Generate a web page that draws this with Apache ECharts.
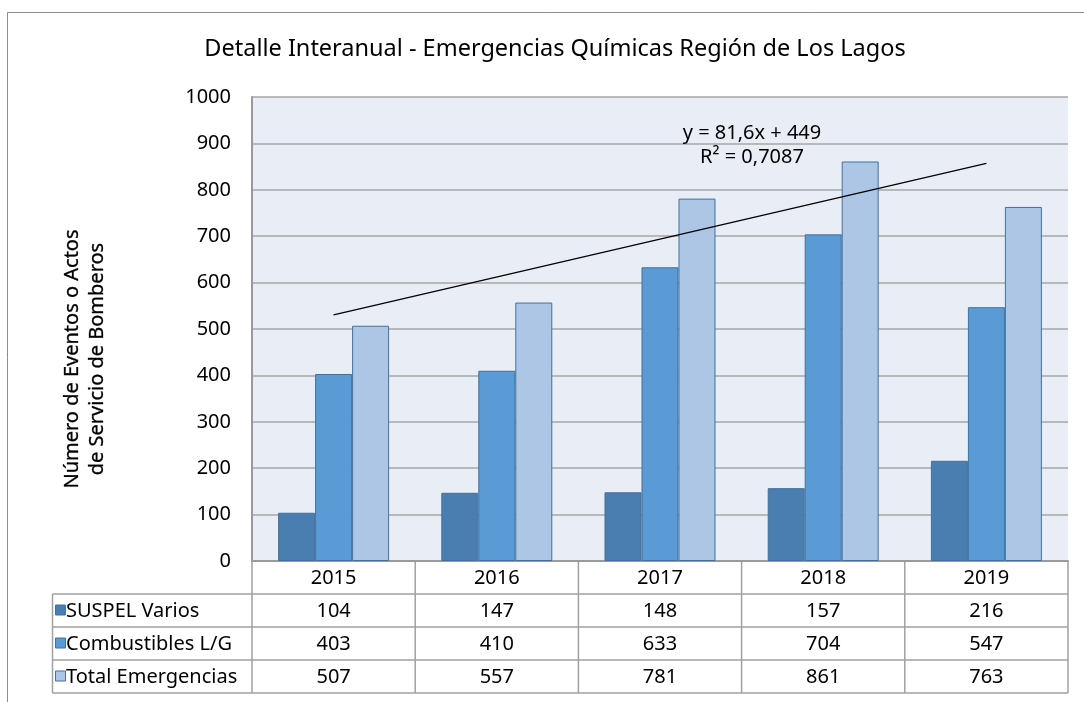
<!DOCTYPE html>
<html><head><meta charset="utf-8">
<script src="https://cdn.jsdelivr.net/npm/echarts@6/dist/echarts.min.js"></script>
<style>html,body{margin:0;padding:0;background:#fff}#c{width:1084px;height:702px}</style>
</head><body><div id="c"></div>
<script>
const years = ['2015','2016','2017','2018','2019'];
const seriesNames = ['SUSPEL Varios','Combustibles L/G','Total Emergencias'];
const suspel = [104,147,148,157,216];
const combustibles = [403,410,633,704,547];
const total = [507,557,781,861,763];
const trendLine = [530.6,null,null,null,857];
const trendLabels = ['y = 81,6x + 449','R² = 0,7087'];
const yTicks = [0,100,200,300,400,500,600,700,800,900,1000];
const yAxisTitle = ['Número de Eventos o Actos','de Servicio de Bomberos'];
const colors = ['#4a7eb0','#5b9bd5','#adc6e5'];
const FONT = '"Noto Sans", "Open Sans", sans-serif';

const chart = echarts.init(document.getElementById('c'), null, {renderer:'canvas'});
const allVals = [suspel, combustibles, total];
const option = {
  animation:false,
  backgroundColor:'#fff',
  textStyle:{fontFamily:FONT},
  title:{text:'Detalle Interanual - Emergencias Químicas Región de Los Lagos',top:32,
    left:550, textAlign:'center',
    textStyle:{fontFamily:FONT,fontSize:23.5,fontWeight:'normal',color:'#000'}},
  grid:{left:252,right:16,top:97,bottom:141,show:true,backgroundColor:'#e9edf6',borderWidth:0},
  xAxis:{type:'category',data:years,axisLabel:{show:false},axisTick:{show:false},
    axisLine:{lineStyle:{color:'#9a9a9a',width:2}}},
  yAxis:{type:'value',min:yTicks[0],max:yTicks[yTicks.length-1],interval:100,
    axisLine:{show:true,lineStyle:{color:'#9a9a9a',width:2}},axisTick:{show:false},
    axisLabel:{fontFamily:FONT,fontSize:20,color:'#000',margin:21,formatter:v=>String(v)},
    splitLine:{lineStyle:{color:'#a6a6a6',width:1.5}}},
  series:[
    ...allVals.map((d,i)=>({type:'bar',name:seriesNames[i],data:d,barGap:'0%',barCategoryGap:'32%',
      itemStyle:{color:colors[i],borderColor:'#41719c',borderWidth:1}})),
    {type:'line',data:trendLine,connectNulls:true,symbol:'none',lineStyle:{color:'#000',width:1.2},z:5}
  ]
};
chart.setOption(option);

// Build data table and decorations from the chart's own scales
const gridModel = chart.getModel().getComponent('grid',0);
const rect = gridModel.coordinateSystem.getRect();
const left = rect.x, right = rect.x + rect.width, bottom = rect.y + rect.height;
const catW = rect.width / years.length;
const rowH = 33;
const labelLeft = 52.5;
const g = [];
const lineStyle = {stroke:'#a0a0a0',lineWidth:1.5};
const TS = 20;
// outer chart border
g.push({type:'rect',shape:{x:7.5,y:12.5,width:1090,height:720},style:{fill:null,stroke:'#8c8c8c',lineWidth:1},silent:true,z:0});
// y axis title (two lines, rotated)
yAxisTitle.forEach((t,i)=>{
  g.push({type:'text',x:72+25*i,y:359,rotation:Math.PI/2,
    style:{text:t,fontFamily:FONT,fontSize:20,fill:'#000',align:'center',verticalAlign:'middle',stroke:'#000',lineWidth:0.3}});
});
// horizontal lines
for(let r=0;r<=3;r++){
  g.push({type:'line',shape:{x1:labelLeft,y1:bottom+rowH*(r+1),x2:right,y2:bottom+rowH*(r+1)},style:lineStyle});
}
// vertical lines
g.push({type:'line',shape:{x1:labelLeft,y1:bottom+rowH,x2:labelLeft,y2:bottom+rowH*4},style:lineStyle});
for(let c=0;c<=years.length;c++){
  const xx = left + c*catW;
  g.push({type:'line',shape:{x1:xx,y1:bottom,x2:xx,y2:bottom+rowH*4},style:lineStyle});
}
// header years and values
years.forEach((y,i)=>{
  const cx = chart.convertToPixel({xAxisIndex:0}, y);
  g.push({type:'text',x:cx,y:bottom+rowH/2+1,style:{text:y,fontFamily:FONT,fontSize:TS,fill:'#000',align:'center',verticalAlign:'middle'}});
  allVals.forEach((arr,r)=>{
    g.push({type:'text',x:cx,y:bottom+rowH*(r+1)+rowH/2+1,style:{text:String(arr[i]),fontFamily:FONT,fontSize:TS,fill:'#000',align:'center',verticalAlign:'middle'}});
  });
});
// row labels with legend keys
seriesNames.forEach((n,r)=>{
  const cy = bottom+rowH*(r+1)+rowH/2;
  g.push({type:'rect',shape:{x:55.5,y:cy-5.5,width:10,height:10},style:{fill:colors[r],stroke:'#41719c',lineWidth:1}});
  g.push({type:'text',x:66,y:cy+1,style:{text:n,fontFamily:FONT,fontSize:TS,fill:'#000',align:'left',verticalAlign:'middle'}});
});
// trendline label
const lblPt = chart.convertToPixel({gridIndex:0},['2017',900]);
g.push({type:'text',x:lblPt[0]+92,y:lblPt[1]-10,style:{text:trendLabels[0],fontFamily:FONT,fontSize:TS,fill:'#000',align:'center',verticalAlign:'middle'}});
g.push({type:'text',x:lblPt[0]+92,y:lblPt[1]+14,style:{text:trendLabels[1],fontFamily:FONT,fontSize:TS,fill:'#000',align:'center',verticalAlign:'middle'}});
chart.setOption({graphic:{elements:g}});
</script></body></html>
